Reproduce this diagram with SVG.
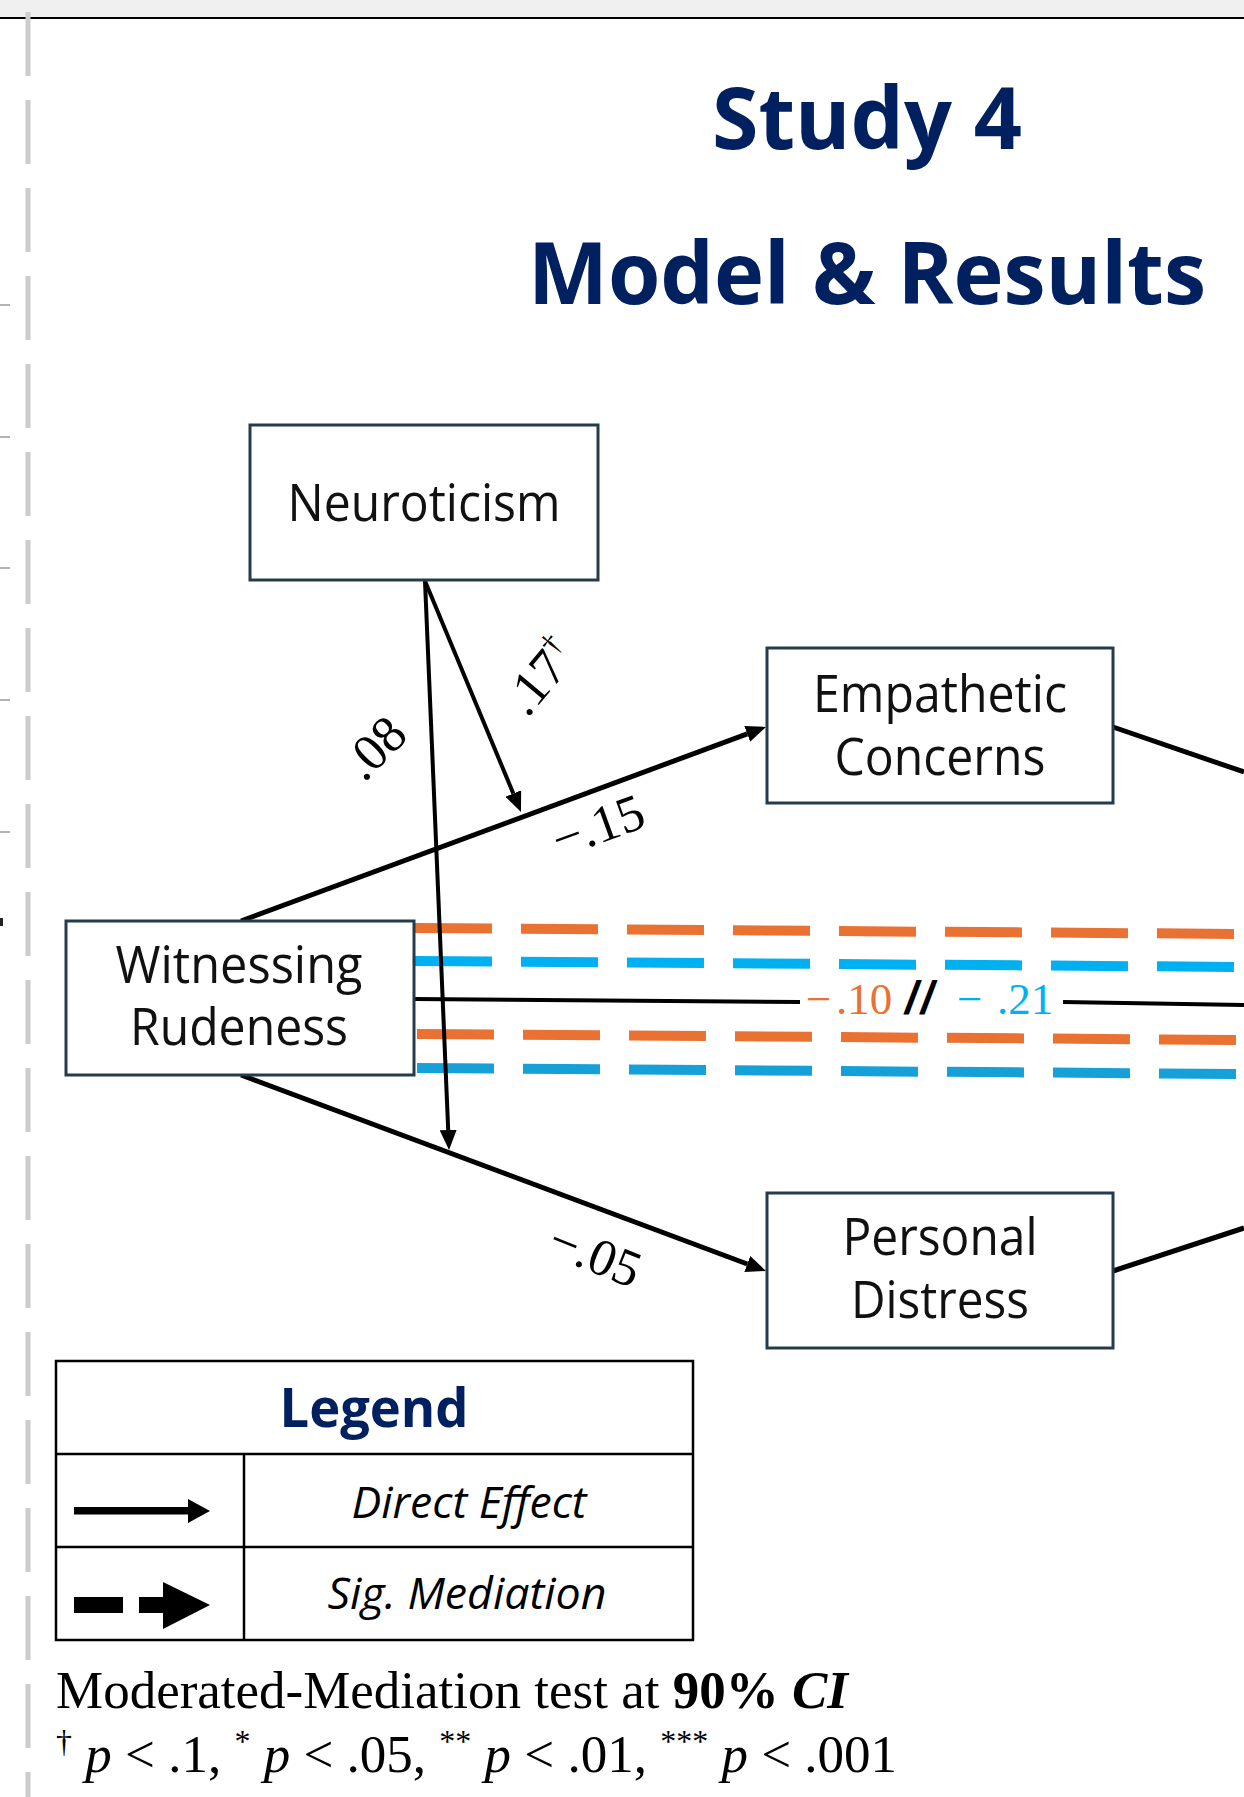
<svg xmlns="http://www.w3.org/2000/svg" width="1244" height="1797" viewBox="0 0 1244 1797">
<defs>
<style>
.node rect{fill:#fff;stroke:#243b4a;stroke-width:3}
.node text{font-family:'Open Sans','Noto Sans',sans-serif;font-size:51px;fill:#111;text-anchor:middle}
.title{font-family:'Open Sans','Noto Sans',sans-serif;font-weight:700;fill:#002060;text-anchor:middle}
.edge{stroke:#000;fill:none;stroke-linecap:butt}
.thick{stroke-width:5}
.thin{stroke-width:4}
.lbl{font-family:'Liberation Serif','Times New Roman',serif;font-size:52px;fill:#000;text-anchor:middle}
.mid{font-family:'Liberation Serif','Times New Roman',serif;font-size:45px}
.lo{fill:#E97132}
.lb{fill:#00B0F0}
.med{stroke-width:10;stroke-dasharray:77 29;fill:none}
.or{stroke:#E97132}
.bl{stroke:#00B0F0}
.bl2{stroke:#16A0D8}
.leg{font-family:'Open Sans','Noto Sans',sans-serif;font-size:43px;font-style:italic;fill:#000;text-anchor:middle}
.note{font-family:'Liberation Serif','Times New Roman',serif;font-size:53px;fill:#000}
</style>
<marker id="ah" viewBox="0 0 20 17" refX="0" refY="8.5" markerWidth="20" markerHeight="17" markerUnits="userSpaceOnUse" orient="auto"><path d="M0,0 L20,8.5 L0,17 z" fill="#000"/></marker>
</defs>
<rect x="0" y="0" width="1244" height="1797" fill="#fff"/>
<rect x="0" y="0" width="1244" height="17" fill="#f0f0f0"/>
<line x1="0" y1="18" x2="1244" y2="18" stroke="#000" stroke-width="2"/>
<g id="margin">
<line x1="28" y1="12" x2="28" y2="1797" stroke="#cccccc" stroke-width="5" stroke-dasharray="64 24"/>
<g stroke="#999" stroke-width="1.5">
<line x1="0" y1="305" x2="10" y2="305"/>
<line x1="0" y1="437" x2="10" y2="437"/>
<line x1="0" y1="568" x2="10" y2="568"/>
<line x1="0" y1="700" x2="10" y2="700"/>
<line x1="0" y1="832" x2="10" y2="832"/>
</g>
<rect x="0" y="918" width="3" height="8" fill="#222"/>
</g>
<g id="title">
<text class="title" x="867" y="149" font-size="86" textLength="310" lengthAdjust="spacingAndGlyphs">Study 4</text>
<text class="title" x="867" y="304" font-size="86" textLength="678" lengthAdjust="spacingAndGlyphs">Model &amp; Results</text>
</g>
<g id="connectors">
<line class="med or" x1="415" y1="928" x2="1244" y2="934"/>
<line class="med bl" x1="415" y1="961" x2="1244" y2="967"/>
<line class="med or" x1="417" y1="1034" x2="1244" y2="1040"/>
<line class="med bl2" x1="417" y1="1068" x2="1244" y2="1074"/>
<path class="edge thin" d="M414,999 L800,1002"/>
<path class="edge thin" d="M1063,1002 L1244,1005"/>
<path class="edge thick" d="M241,921 L747.2,733.9" marker-end="url(#ah)"/>
<path class="edge thick" d="M241,1075 L747.3,1264" marker-end="url(#ah)"/>
<path class="edge thin" d="M425,581 L513.3,793.5" marker-end="url(#ah)"/>
<path class="edge thin" d="M425,581 L448.2,1130" marker-end="url(#ah)"/>
<path class="edge thick" d="M1113,727 L1244,772"/>
<path class="edge thick" d="M1113,1271 L1244,1228"/>
<text class="lbl" transform="translate(375,748) rotate(-45)" dy="17">.08</text>
<text class="lbl" transform="translate(540,677) rotate(-50)" dy="17">.17<tspan font-size="30" dy="-20">†</tspan></text>
<text class="lbl" transform="translate(598,826) rotate(-20)" dy="17">−.15</text>
<text class="lbl" transform="translate(595,1255) rotate(22)" dy="17">−.05</text>
<text class="mid lo" x="806" y="1014">−</text>
<text class="mid lo" x="836" y="1014">.10</text>
<text x="905" y="1014" font-family="'Liberation Sans',Arial,sans-serif" font-size="46" font-weight="700" font-style="italic" letter-spacing="3" fill="#000">//</text>
<text class="mid lb" x="957" y="1014">−</text>
<text class="mid lb" x="997" y="1014">.21</text>
</g>
<g id="neuroticism" class="node">
<rect x="250" y="425" width="348" height="155"/>
<text x="424" y="521" textLength="273" lengthAdjust="spacingAndGlyphs">Neuroticism</text>
</g>
<g id="empathetic-concerns" class="node">
<rect x="767" y="648" width="346" height="155"/>
<text x="940" y="712" textLength="254" lengthAdjust="spacingAndGlyphs">Empathetic</text>
<text x="940" y="775" textLength="211" lengthAdjust="spacingAndGlyphs">Concerns</text>
</g>
<g id="witnessing-rudeness" class="node">
<rect x="66" y="921" width="348" height="154"/>
<text x="239" y="983" textLength="247" lengthAdjust="spacingAndGlyphs">Witnessing</text>
<text x="239" y="1045" textLength="218" lengthAdjust="spacingAndGlyphs">Rudeness</text>
</g>
<g id="personal-distress" class="node">
<rect x="767" y="1193" width="346" height="155"/>
<text x="940" y="1255" textLength="195" lengthAdjust="spacingAndGlyphs">Personal</text>
<text x="940" y="1318" textLength="178" lengthAdjust="spacingAndGlyphs">Distress</text>
</g>
<g id="legend">
<rect x="56" y="1361" width="637" height="279" fill="none" stroke="#000" stroke-width="2.5"/>
<line x1="56" y1="1454" x2="693" y2="1454" stroke="#000" stroke-width="2.5"/>
<line x1="56" y1="1547" x2="693" y2="1547" stroke="#000" stroke-width="2.5"/>
<line x1="244" y1="1454" x2="244" y2="1640" stroke="#000" stroke-width="2.5"/>
<text class="title" x="374" y="1427" font-size="54" textLength="189" lengthAdjust="spacingAndGlyphs">Legend</text>
<rect x="74" y="1507" width="115" height="7.5" fill="#000"/>
<polygon points="188,1499 210,1511 188,1523" fill="#000"/>
<rect x="74" y="1597" width="49" height="16" fill="#000"/>
<rect x="139" y="1597" width="25" height="16" fill="#000"/>
<polygon points="163,1582 210,1605 163,1629" fill="#000"/>
<text class="leg" x="469" y="1518" textLength="235" lengthAdjust="spacingAndGlyphs">Direct Effect</text>
<text class="leg" x="467" y="1609" textLength="279" lengthAdjust="spacingAndGlyphs">Sig. Mediation</text>
</g>
<g id="notes">
<text class="note" x="56" y="1708">Moderated-Mediation test at <tspan font-weight="700">90% </tspan><tspan font-weight="700" font-style="italic">CI</tspan></text>
<text class="note" x="56" y="1772"><tspan font-size="32" dy="-20">†</tspan><tspan dy="20"> </tspan><tspan font-style="italic">p</tspan> &lt; .1, <tspan font-size="32" dy="-20">*</tspan><tspan dy="20"> </tspan><tspan font-style="italic">p</tspan> &lt; .05, <tspan font-size="32" dy="-20">**</tspan><tspan dy="20"> </tspan><tspan font-style="italic">p</tspan> &lt; .01, <tspan font-size="32" dy="-20">***</tspan><tspan dy="20"> </tspan><tspan font-style="italic">p</tspan> &lt; .001</text>
</g>
</svg>
